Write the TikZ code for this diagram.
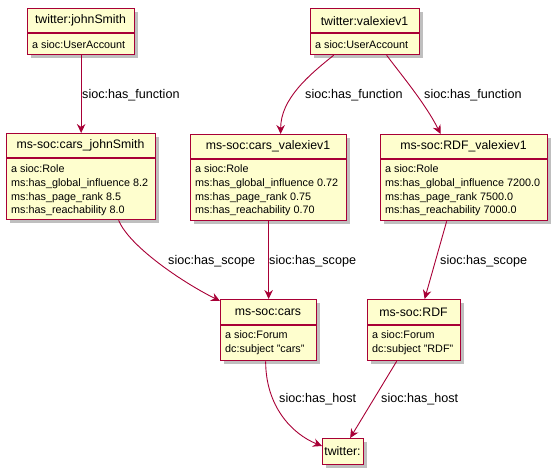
\documentclass[tikz,border=0pt]{standalone}
\usepackage{fontspec}
\setmainfont{Liberation Sans}
\usetikzlibrary{arrows.meta,shadows}
\definecolor{pfill}{HTML}{FEFECE}
\definecolor{pline}{HTML}{A80036}
\tikzset{
  obox/.style={draw=pline, fill=pfill, line width=1.3pt, inner sep=0pt, anchor=north west,
    drop shadow={shadow xshift=3.5pt, shadow yshift=-3.5pt, fill=black, opacity=0.25}},
  sepline/.style={draw=pline, line width=1.2pt},
  ttl/.style={font=\fontsize{12.3}{14}\selectfont, inner sep=0pt},
  bdy/.style={font=\fontsize{10.8}{13.67}\selectfont, inner sep=0pt, anchor=west, align=left},
  lbl/.style={font=\fontsize{12.6}{15}\selectfont, inner sep=0pt, anchor=west},
  arr/.style={draw=pline, line width=0.9pt, -{Stealth[length=9pt,width=8.5pt,inset=3pt]}},
}
\begin{document}
\begin{tikzpicture}[x=1pt,y=-1pt]
\useasboundingbox (0,0) rectangle (558,474);
% twitter:johnSmith
\node[obox, minimum width=107pt, minimum height=46pt] (js) at (27,8) {};
\draw[sepline] (27,33) -- (134,33);
\node[ttl] (jst) at (80.5,20.7) {twitter:johnSmith};
\node[bdy] (jsb) at (32,45) {a sioc:UserAccount};
% twitter:valexiev1
\node[obox, minimum width=109pt, minimum height=46pt] (v1) at (310,8) {};
\draw[sepline] (310,33) -- (419,33);
\node[ttl] (v1t) at (364.5,20.7) {twitter:valexiev1};
\node[bdy] (v1b) at (315,45) {a sioc:UserAccount};
% ms-soc:cars_johnSmith
\node[obox, minimum width=149pt, minimum height=86pt] (cjs) at (6,133) {};
\draw[sepline] (6,158) -- (155,158);
\node[ttl] (cjst) at (80.5,145.7) {ms-soc:cars\_johnSmith};
\node[bdy] (cjsb) at (11,190.5) {a sioc:Role\\ms:has\_global\_influence 8.2\\ms:has\_page\_rank 8.5\\ms:has\_reachability 8.0};
% ms-soc:cars_valexiev1
\node[obox, minimum width=156pt, minimum height=86pt] (cv) at (190,134) {};
\draw[sepline] (190,159) -- (346,159);
\node[ttl] (cvt) at (268,146) {ms-soc:cars\_valexiev1};
\node[bdy] (cvb) at (195,190.5) {a sioc:Role\\ms:has\_global\_influence 0.72\\ms:has\_page\_rank 0.75\\ms:has\_reachability 0.70};
% ms-soc:RDF_valexiev1
\node[obox, minimum width=167pt, minimum height=86pt] (rv) at (380,134) {};
\draw[sepline] (380,159) -- (547,159);
\node[ttl] (rvt) at (463.5,146) {ms-soc:RDF\_valexiev1};
\node[bdy] (rvb) at (385,190.5) {a sioc:Role\\ms:has\_global\_influence 7200.0\\ms:has\_page\_rank 7500.0\\ms:has\_reachability 7000.0};
% ms-soc:cars
\node[obox, minimum width=96pt, minimum height=61pt] (cars) at (220,299) {};
\draw[sepline] (220,325) -- (316,325);
\node[ttl] (carst) at (268,312) {ms-soc:cars};
\node[bdy] (carsb) at (225,342.5) {a sioc:Forum\\dc:subject "cars"};
% ms-soc:RDF
\node[obox, minimum width=93pt, minimum height=61pt] (rdf) at (367,299) {};
\draw[sepline] (367,325) -- (460,325);
\node[ttl] (rdft) at (413.5,312) {ms-soc:RDF};
\node[bdy] (rdfb) at (372,342.5) {a sioc:Forum\\dc:subject "RDF"};
% twitter:
\node[obox, minimum width=41pt, minimum height=26pt] (tw) at (322,438) {};
\node[ttl] (twt) at (342.5,451) {twitter:};
% connectors
\draw[arr] (js.south) -- (cjs.north);
\draw[arr] ([xshift=-31.5pt]v1.south) .. controls +(-25,20) and +(0,-35) .. ([xshift=12pt]cv.north);
\draw[arr] ([xshift=21.5pt]v1.south) .. controls +(15,20) and +(-15,-30) .. ([xshift=-23.5pt]rv.north);
\draw[arr] ([xshift=37.5pt]cjs.south) .. controls +(10,25) and +(-40,-20) .. ([yshift=-2pt]cars.north west);
\draw[arr] (cv.south) -- (cars.north);
\draw[arr] ([xshift=-17.5pt]rv.south) -- ([xshift=10.5pt]rdf.north);
\draw[arr] ([xshift=-3pt]cars.south) .. controls +(0,45) and +(-30,-12) .. ([yshift=-8pt]tw.north west);
\draw[arr] ([xshift=-17.5pt]rdf.south) -- ([xshift=7pt]tw.north);
% labels
\node[lbl] (l1) at (82,95) {sioc:has\_function};
\node[lbl] (l2) at (305,95) {sioc:has\_function};
\node[lbl] (l3) at (424,95) {sioc:has\_function};
\node[lbl] (l4) at (168,261) {sioc:has\_scope};
\node[lbl] (l5) at (269,261) {sioc:has\_scope};
\node[lbl] (l6) at (440,261) {sioc:has\_scope};
\node[lbl] (l7) at (279,399) {sioc:has\_host};
\node[lbl] (l8) at (381,399) {sioc:has\_host};
\end{tikzpicture}
\end{document}
